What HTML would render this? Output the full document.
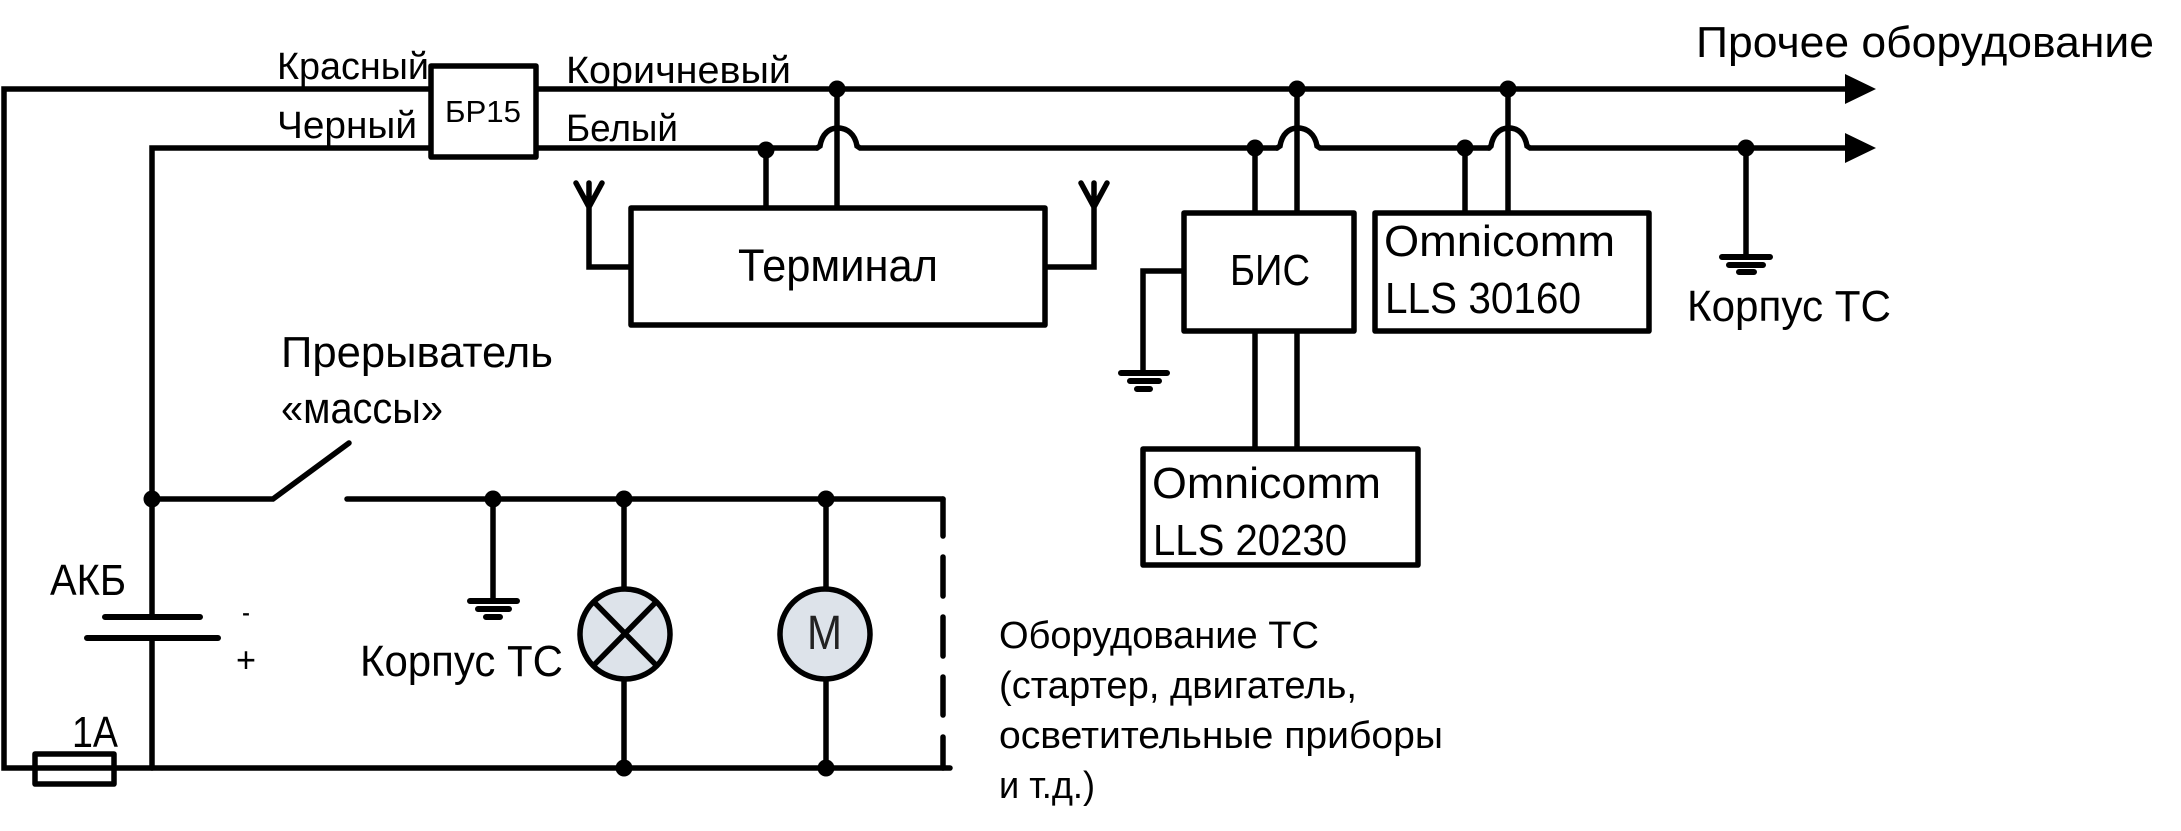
<!DOCTYPE html>
<html>
<head>
<meta charset="utf-8">
<style>
html,body{margin:0;padding:0;background:#fff;}
svg{display:block;}
text{font-family:"Liberation Sans",sans-serif;fill:#000;}
</style>
</head>
<body>
<svg width="2181" height="831" viewBox="0 0 2181 831" xmlns="http://www.w3.org/2000/svg">
<g fill="none" stroke="#000" stroke-width="5.5" stroke-linecap="round" stroke-linejoin="miter">
  <!-- top wires -->
  <path d="M1846 89H4V768H950"/>
  <path d="M152 768V638M152 617V148H817"/>
  <path d="M817 148L820 146C822 134 829 128 838 128C847 128 855 134 857 146L860 148H1277"/>
  <path d="M1277 148L1280 146C1282 134 1289 128 1298 128C1307 128 1315 134 1317 146L1320 148H1489"/>
  <path d="M1489 148L1491 146C1493 134 1500 128 1509 128C1518 128 1525 134 1527 146L1530 148H1846"/>
  <!-- verticals to terminal -->
  <path d="M766 148V207M837 89V207"/>
  <!-- antennas -->
  <path d="M631 267H589V205M576 183L589 207L602 183M589 183V207"/>
  <path d="M1045 267H1094V205M1081 183L1094 207L1107 183M1094 183V207"/>
  <!-- BIS connections -->
  <path d="M1255 148V212M1297 89V212M1465 148V212M1508 89V212"/>
  <path d="M1184 271H1143V373"/>
  <path d="M1255 331V448M1297 331V448"/>
  <!-- right ground -->
  <path d="M1746 148V257"/>
  <!-- switch -->
  <path d="M152 499H273L349 443"/>
  <path d="M347 499H943"/>
  <path d="M493 499V601M624 499V768M826 499V768"/>
  <!-- dashed -->
  <path d="M943 499V536M943 557V596M943 617V656M943 677V715M943 737V768"/>
  <!-- battery -->
  <path d="M105 617H200M87 638H218" stroke-width="6"/>
</g>
<!-- boxes -->
<g fill="#fff" stroke="#000" stroke-width="5.5" stroke-linejoin="round">
  <rect x="431" y="66" width="105" height="91"/>
  <rect x="631" y="208" width="414" height="117"/>
  <rect x="1184" y="213" width="170" height="118"/>
  <rect x="1375" y="213" width="274" height="118"/>
  <rect x="1143" y="449" width="275" height="116"/>
  <rect x="35" y="754" width="79" height="30" fill="none"/>
  <circle cx="625" cy="634" r="45" fill="#dde3ea"/>
  <circle cx="825" cy="634" r="45" fill="#dde3ea"/>
</g>
<path d="M593 601L657 666M657 601L593 666" stroke="#000" stroke-width="5.5" fill="none"/>
<!-- arrows -->
<path d="M1845 74L1876 89L1845 104ZM1845 133L1876 148L1845 163Z" fill="#000"/>
<!-- dots -->
<g fill="#000">
  <circle cx="837" cy="89" r="8.5"/><circle cx="1297" cy="89" r="8.5"/><circle cx="1508" cy="89" r="8.5"/>
  <circle cx="766" cy="150" r="8.5"/><circle cx="1255" cy="148" r="8.5"/><circle cx="1465" cy="148" r="8.5"/><circle cx="1746" cy="148" r="8.5"/>
  <circle cx="152" cy="499" r="8.5"/><circle cx="493" cy="499" r="8.5"/><circle cx="624" cy="499" r="8.5"/><circle cx="826" cy="499" r="8.5"/>
  <circle cx="624" cy="768" r="8.5"/><circle cx="826" cy="768" r="8.5"/>
</g>
<!-- grounds -->
<g stroke="#000" stroke-width="6" stroke-linecap="round" fill="none">
  <path d="M1121 373H1167M1130 381H1159M1137 389H1150"/>
  <path d="M1722 257H1770M1729 265H1763M1739 272H1754"/>
  <path d="M470 601H517M478 609H509M486 617H500"/>
</g>
<!-- labels -->
<g>
  <text x="277" y="79" font-size="38" textLength="152" lengthAdjust="spacingAndGlyphs">Красный</text>
  <text x="277" y="138" font-size="38" textLength="140" lengthAdjust="spacingAndGlyphs">Черный</text>
  <text x="566" y="83" font-size="38" textLength="225" lengthAdjust="spacingAndGlyphs">Коричневый</text>
  <text x="566" y="141" font-size="38" textLength="112" lengthAdjust="spacingAndGlyphs">Белый</text>
  <text x="445" y="122" font-size="31" textLength="76" lengthAdjust="spacingAndGlyphs">БР15</text>
  <text x="738" y="281" font-size="45" textLength="200" lengthAdjust="spacingAndGlyphs">Терминал</text>
  <text x="281" y="367" font-size="44" textLength="272" lengthAdjust="spacingAndGlyphs">Прерыватель</text>
  <text x="281" y="423" font-size="44" textLength="162" lengthAdjust="spacingAndGlyphs">«массы»</text>
  <text x="1696" y="57" font-size="44" textLength="458" lengthAdjust="spacingAndGlyphs">Прочее оборудование</text>
  <text x="1230" y="285" font-size="44" textLength="80" lengthAdjust="spacingAndGlyphs">БИС</text>
  <text x="1384" y="256" font-size="44" textLength="231" lengthAdjust="spacingAndGlyphs">Omnicomm</text>
  <text x="1385" y="313" font-size="44" textLength="196" lengthAdjust="spacingAndGlyphs">LLS 30160</text>
  <text x="1687" y="321" font-size="44" textLength="204" lengthAdjust="spacingAndGlyphs">Корпус ТС</text>
  <text x="1152" y="498" font-size="44" textLength="229" lengthAdjust="spacingAndGlyphs">Omnicomm</text>
  <text x="1153" y="555" font-size="44" textLength="194" lengthAdjust="spacingAndGlyphs">LLS 20230</text>
  <text x="999" y="648" font-size="38" textLength="320" lengthAdjust="spacingAndGlyphs">Оборудование ТС</text>
  <text x="999" y="698" font-size="38" textLength="358" lengthAdjust="spacingAndGlyphs">(стартер, двигатель,</text>
  <text x="999" y="748" font-size="38" textLength="444" lengthAdjust="spacingAndGlyphs">осветительные приборы</text>
  <text x="999" y="798" font-size="38" textLength="96" lengthAdjust="spacingAndGlyphs">и т.д.)</text>
  <text x="50" y="595" font-size="44" textLength="76" lengthAdjust="spacingAndGlyphs">АКБ</text>
  <text x="242" y="622" font-size="30" textLength="8" lengthAdjust="spacingAndGlyphs">-</text>
  <text x="236" y="672" font-size="36" textLength="20" lengthAdjust="spacingAndGlyphs">+</text>
  <text x="360" y="676" font-size="44" textLength="203" lengthAdjust="spacingAndGlyphs">Корпус ТС</text>
  <text x="72" y="747" font-size="44" textLength="46" lengthAdjust="spacingAndGlyphs">1А</text>
  <text x="807" y="649" font-size="48" textLength="35" lengthAdjust="spacingAndGlyphs" style="fill:#222">М</text>
</g>
</svg>
</body>
</html>
